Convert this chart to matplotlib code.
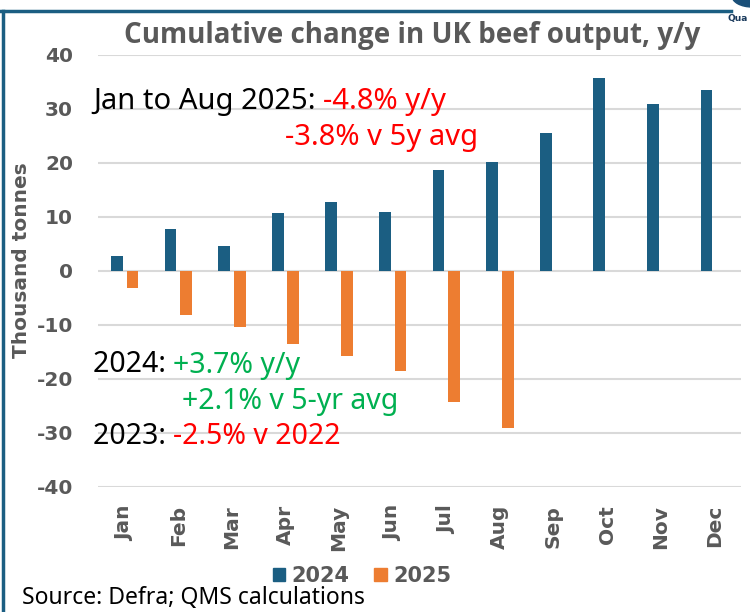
import matplotlib
matplotlib.use("Agg")
import matplotlib.pyplot as plt
from matplotlib.lines import Line2D
from matplotlib.patches import Ellipse, Patch
from matplotlib.font_manager import FontProperties
import numpy as np

# ---- data ----
months = ["Jan", "Feb", "Mar", "Apr", "May", "Jun",
          "Jul", "Aug", "Sep", "Oct", "Nov", "Dec"]
vals_2024 = [2.8, 7.8, 4.7, 10.7, 12.7, 10.9, 18.7, 20.2, 25.6, 35.8, 31.0, 33.6]
vals_2025 = [-3.2, -8.2, -10.4, -13.6, -15.7, -18.5, -24.3, -29.1]
yticks = [-40, -30, -20, -10, 0, 10, 20, 30, 40]

BLUE = "#1b5e82"
ORANGE = "#ed7d31"
GREY = "#595959"
RED = "#ff0000"
GREEN = "#00b050"

W, H = 750, 612
fig = plt.figure(figsize=(7.5, 6.12), dpi=100)
ax = fig.add_axes([98 / W, 1 - 487 / H, 643 / W, 432 / H])

x = np.arange(len(months))
bw = 0.22
ax.bar(x - 0.145, vals_2024, width=bw, color=BLUE, zorder=3)
ax.bar(x[:len(vals_2025)] + 0.145, vals_2025, width=bw, color=ORANGE, zorder=3)

tick_font = FontProperties(family="DejaVu Sans", weight="bold", size=14.5)
ax.set_xlim(-0.5, len(months) - 0.5)
ax.set_ylim(-40, 40)
ax.set_yticks(yticks)
ax.set_yticklabels([str(v) for v in yticks], fontproperties=tick_font, color=GREY)
ax.set_xticks(x)
ax.set_xticklabels(months, rotation=90, fontproperties=tick_font, color=GREY)
ax.tick_params(axis="both", length=0)
ax.tick_params(axis="y", pad=18)
ax.tick_params(axis="x", pad=13)
ax.yaxis.grid(True, color="#d9d9d9", linewidth=1.5, zorder=0)
for s in ax.spines.values():
    s.set_visible(False)
ax.set_ylabel("Thousand tonnes", color=GREY,
              fontproperties=FontProperties(family="DejaVu Sans", weight="bold", size=14.5))
ax.yaxis.set_label_coords(-67 / 643, 0.525)

fig.text(412 / W, 1 - 36 / H, "Cumulative change in UK beef output, y/y",
         ha="center", va="center", fontsize=20, fontweight="bold",
         color=GREY, family="Open Sans")

# multi-coloured annotation lines
fig.canvas.draw()
renderer = fig.canvas.get_renderer()


def colour_line(px, py, parts, size=20.5):
    xx = px / W
    for txt, col in parts:
        t = fig.text(xx, 1 - py / H, txt, ha="left", va="center", color=col,
                     fontsize=size, family="Noto Sans")
        bb = t.get_window_extent(renderer)
        xx = bb.x1 / W


colour_line(93, 102, [("Jan to Aug 2025: ", "black"), ("-4.8% y/y", RED)], 21)
colour_line(285, 137, [("-3.8% v 5y avg", RED)], 21)
colour_line(93, 365, [("2024: ", "black"), ("+3.7% y/y", GREEN)])
colour_line(182, 402, [("+2.1% v 5-yr avg", GREEN)])
colour_line(93, 436, [("2023: ", "black"), ("-2.5% v 2022", RED)])

# legend
handles = [Patch(color=BLUE, label="2024"), Patch(color=ORANGE, label="2025")]
leg = fig.legend(handles=handles, loc="center", bbox_to_anchor=(362 / W, 1 - 576 / H),
                 ncol=2, frameon=False, handlelength=0.6, handleheight=0.6,
                 handletextpad=0.3, columnspacing=1.2,
                 prop=FontProperties(family="DejaVu Sans", weight="bold", size=15))
for t in leg.get_texts():
    t.set_color(GREY)

fig.text(22 / W, 1 - 598 / H, "Source: Defra; QMS calculations", ha="left",
         va="center", fontsize=16.5, family="Noto Sans", color="black")

# frame lines and logo fragment
fig.add_artist(Line2D([0, 731 / W], [1 - 11 / H, 1 - 11 / H], color=BLUE, lw=2.5))
fig.add_artist(Line2D([3 / W, 3 / W], [0, 1 - 11 / H], color=BLUE, lw=2.5))
fig.add_artist(Ellipse((752 / W, 1 + 4 / H), 40 / W, 22 / H, color="#1a4f78",
                       transform=fig.transFigure))
fig.text(748 / W, 1 - 19 / H, "Qua", fontsize=6.5, fontweight="bold", color="#1a3a5c",
         ha="right", va="center")

fig.savefig("out.png", dpi=100)
